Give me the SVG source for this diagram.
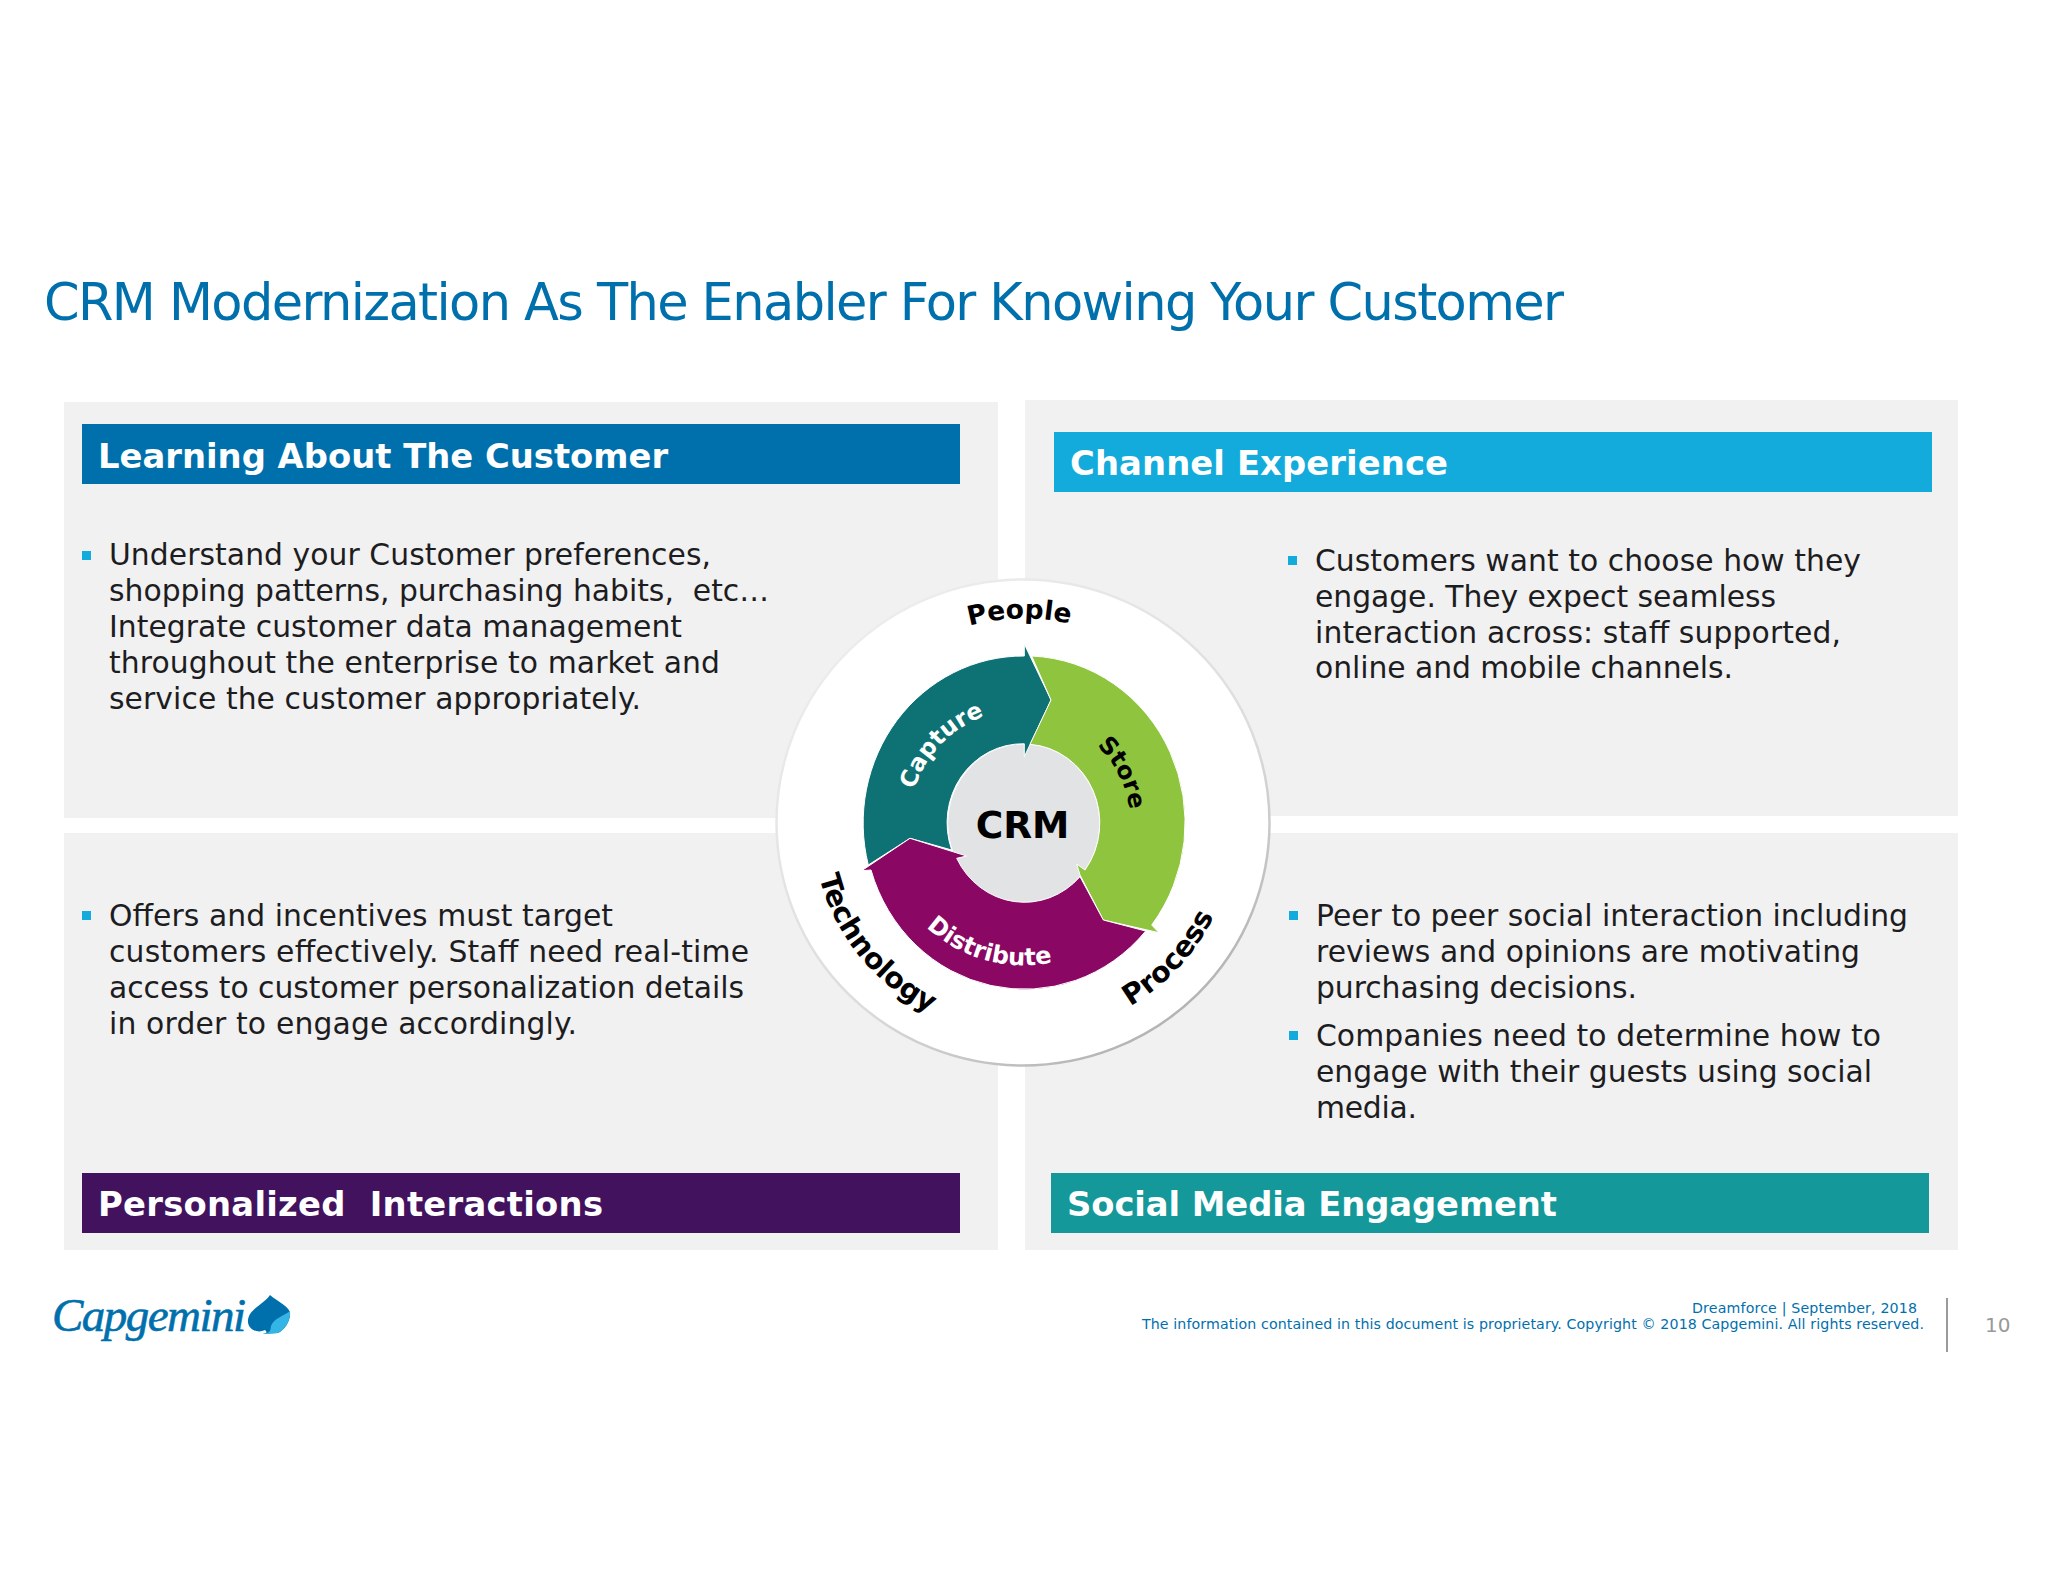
<svg xmlns="http://www.w3.org/2000/svg" width="2048" height="1582" viewBox="0 0 2048 1582">
<style>
text{font-family:"DejaVu Sans","Verdana",sans-serif;white-space:pre}
.panel{fill:#f1f1f2}
.hd{font-weight:700;font-size:33.8px;fill:#fff}
.body{font-size:29.8px;fill:#1d1d1f}
.bullet{fill:#12abdb}
.ft{font-size:14.2px;fill:#0070ad}
.ring{font-weight:700;font-size:28.5px;fill:#000}
.seg{font-weight:700;font-size:24px}
.arrow{stroke:#fff;stroke-width:1}
</style>
<defs>
<path id="arcTop27" d="M818.3 823.3A205 205 0 0 1 1228.3 823.3"/>
<path id="arcBotTech" d="M812.3 823.3A211 211 0 0 0 1234.3 823.3"/>
<path id="arcBotProc" d="M811.3 823.3A212 212 0 0 0 1235.3 823.3"/>
<path id="arcCapture" d="M909.3 823.3A114 114 0 0 1 1137.3 823.3"/>
<path id="arcStore" d="M916.3 823.3A107 107 0 0 1 1130.3 823.3"/>
<path id="arcDist" d="M881.3 823.3A142 142 0 0 0 1165.3 823.3"/>
<linearGradient id="edge" x1="0.2" y1="0.1" x2="0.8" y2="0.95">
<stop offset="0" stop-color="#ececec"/><stop offset="0.6" stop-color="#dcdcdc"/><stop offset="1" stop-color="#b0b0b0"/>
</linearGradient>
</defs>
<rect width="2048" height="1582" fill="#fff"/>
<text id="title" x="44" y="320" font-size="51" fill="#0070ad" textLength="1520">CRM Modernization As The Enabler For Knowing Your Customer</text>

<g id="panel-learning">
<rect class="panel" x="64" y="402" width="934" height="416"/>
<rect x="82" y="424" width="878" height="60" fill="#0070ad"/>
<text class="hd" x="98" y="468">Learning About The Customer</text>
<rect class="bullet" x="82" y="551" width="9" height="9"/>
<text class="body" x="109" y="565" textLength="602">Understand your Customer preferences,</text>
<text class="body" x="109" y="601" textLength="660">shopping patterns, purchasing habits,  etc…</text>
<text class="body" x="109" y="637" textLength="573">Integrate customer data management</text>
<text class="body" x="109" y="673" textLength="611">throughout the enterprise to market and</text>
<text class="body" x="109" y="709" textLength="532">service the customer appropriately.</text>
</g>
<g id="panel-channel">
<rect class="panel" x="1025" y="400" width="933" height="416"/>
<rect x="1054" y="432" width="878" height="60" fill="#12abdb"/>
<text class="hd" x="1070" y="475" textLength="378">Channel Experience</text>
<rect class="bullet" x="1288" y="556" width="9" height="9"/>
<text class="body" x="1315" y="571" textLength="546">Customers want to choose how they</text>
<text class="body" x="1315" y="607" textLength="461">engage. They expect seamless</text>
<text class="body" x="1315" y="643" textLength="526">interaction across: staff supported,</text>
<text class="body" x="1315" y="678" textLength="418">online and mobile channels.</text>
</g>
<g id="panel-personalized">
<rect class="panel" x="64" y="833" width="934" height="417"/>
<rect x="82" y="1173" width="878" height="60" fill="#43125f"/>
<text class="hd" x="98" y="1216" textLength="505">Personalized  Interactions</text>
<rect class="bullet" x="82" y="911" width="9" height="9"/>
<text class="body" x="109" y="926" textLength="504">Offers and incentives must target</text>
<text class="body" x="109" y="962" textLength="640">customers effectively. Staff need real-time</text>
<text class="body" x="109" y="998" textLength="635">access to customer personalization details</text>
<text class="body" x="109" y="1034" textLength="468">in order to engage accordingly.</text>
</g>
<g id="panel-social">
<rect class="panel" x="1025" y="833" width="933" height="417"/>
<rect x="1051" y="1173" width="878" height="60" fill="#14989a"/>
<text class="hd" x="1067" y="1216" textLength="490">Social Media Engagement</text>
<rect class="bullet" x="1289" y="911" width="9" height="9"/>
<text class="body" x="1316" y="926" textLength="592">Peer to peer social interaction including</text>
<text class="body" x="1316" y="962" textLength="544">reviews and opinions are motivating</text>
<text class="body" x="1316" y="998" textLength="321">purchasing decisions.</text>
<rect class="bullet" x="1289" y="1031" width="9" height="9"/>
<text class="body" x="1316" y="1046" textLength="565">Companies need to determine how to</text>
<text class="body" x="1316" y="1082" textLength="556">engage with their guests using social</text>
<text class="body" x="1316" y="1118" textLength="101">media.</text>
</g>

<g id="crm-wheel">
<ellipse cx="1023" cy="822.5" rx="246.5" ry="243" fill="#fff" stroke="url(#edge)" stroke-width="2.5"/>
<ellipse cx="1023.7" cy="823.3" rx="75.5" ry="79" fill="#e2e3e4"/>
<path class="arrow" fill="#0e7174" d="M1024.3 644L1051 700L1024.3 756.7L1024.3 743.8A75.5 79 0 0 0 951.7 850L910 838.3L868.3 865A160 167 0 0 1 1024.3 656Z"/>
<path class="arrow" fill="#8fc43f" d="M1031.7 656A160 167 0 0 1 1151.7 925L1159 932.7L1103.3 920L1080 875L1076.7 864L1085 870A75.5 79 0 0 0 1030 744.3L1051 700Z"/>
<path class="arrow" fill="#8a0763" d="M1145.7 931A160 167 0 0 1 871 870L861.7 870.7L910 838.3L966.7 856L956.7 858.3A75.5 79 0 0 0 1080 876.7L1103.3 920Z"/>
<text class="ring" style="font-size:26.5px"><textPath href="#arcTop27" startOffset="49.4%" text-anchor="middle">People</textPath></text>
<text class="ring"><textPath href="#arcBotTech" startOffset="21.8%" text-anchor="middle">Technology</textPath></text>
<text class="ring"><textPath href="#arcBotProc" startOffset="76.2%" text-anchor="middle">Process</textPath></text>
<text class="seg" fill="#fff" style="font-size:23.5px"><textPath href="#arcCapture" startOffset="24.2%" text-anchor="middle">Capture</textPath></text>
<text class="seg" fill="#000"><textPath href="#arcStore" startOffset="85%" text-anchor="middle">Store</textPath></text>
<text class="seg" fill="#fff"><textPath href="#arcDist" startOffset="41.3%" text-anchor="middle">Distribute</textPath></text>
<text x="1022.5" y="838" font-size="37.5" font-weight="700" fill="#000" text-anchor="middle">CRM</text>
</g>

<g id="logo">
<text x="52" y="1331" font-size="47" fill="#0070ad" stroke="#0070ad" stroke-width="0.6" textLength="194" style="font-family:'Liberation Serif',serif;font-style:italic">Capgemini</text>
<path fill="#0070ad" d="M270 1295C263 1305 249 1309 248 1320C247 1329 257 1334 265 1330C268 1333 266 1333 263 1334L278 1333C285 1330 291 1320 290 1312C287 1305 277 1301 270 1295Z"/>
<path fill="#35b5e5" d="M290 1311C284 1316 274 1318 271 1326C270 1330 272 1332 263 1334L278 1333C285 1330 291 1320 290 1311Z"/>
</g>
<g id="footer">
<text class="ft" x="1917" y="1313" text-anchor="end" textLength="225">Dreamforce | September, 2018</text>
<text class="ft" x="1924" y="1329" text-anchor="end" textLength="782">The information contained in this document is proprietary. Copyright © 2018 Capgemini. All rights reserved.</text>
<rect x="1946" y="1298" width="2" height="54" fill="#9a9a9a"/>
<text x="1985" y="1332" font-size="20" fill="#999">10</text>
</g>
</svg>
